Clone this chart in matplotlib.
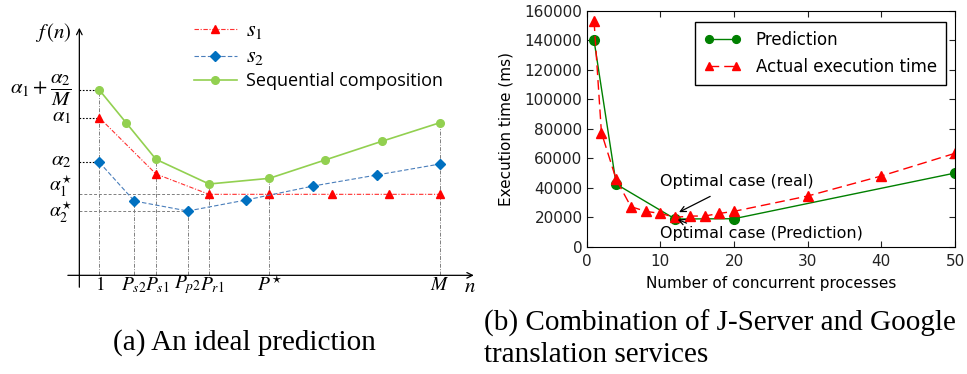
import numpy as np
import matplotlib
matplotlib.use('Agg')
import matplotlib.pyplot as plt

plt.rcParams['mathtext.fontset'] = 'stix'

# ---- (a) ideal prediction, schematic values in arbitrary units ----
seq_n = [1, 2.49, 4.16, 7.12, 10.48, 13.59, 16.75, 20]
seq_f = [55.6, 45.8, 34.8, 27.4, 29.1, 34.6, 40.2, 45.8]
s1_n = [1, 4.16, 7.12, 10.48, 13.96, 17.17, 20]
s1_f = [47.3, 30.4, 24.3, 24.3, 24.3, 24.3, 24.3]
s2_n = [1, 2.95, 5.93, 9.18, 12.93, 16.47, 20]
s2_f = [33.9, 22.3, 19.3, 22.6, 26.8, 30.1, 33.4]

ytick_f = [55.6, 47.8, 34.6, 26.6, 19.3]
ytick_lab = [r'$\alpha_1+\dfrac{\alpha_2}{M}$', r'$\alpha_1$', r'$\alpha_2$',
             r'$\alpha_1^{\star}$', r'$\alpha_2^{\star}$']
ytick_size = [15, 15, 15, 14, 14]
xtick_n = [1, 2.95, 4.16, 5.93, 7.12, 10.48, 20]
xtick_lab = [r'$1$', r'$P_{s2}$', r'$P_{s1}$', r'$P_{p2}$', r'$P_{r1}$', r'$P^{\star}$', r'$M$']
xtick_shift = [0, 0, 0.1, 0, 0.2, 0, 0]
vtops = [55.6, 22.3, 34.8, 19.3, 27.4, 29.1, 45.8]

# ---- (b) J-Server + Google translation ----
pred_n = [1, 4, 12, 20, 50]
pred_t = [140000, 42500, 18800, 19000, 50000]
act_n = [1, 2, 4, 6, 8, 10, 12, 14, 16, 18, 20, 30, 40, 50]
act_t = [153000, 77400, 45700, 27200, 24000, 22600, 19900, 20800, 20800,
         22600, 24000, 34400, 48000, 63400]

fig = plt.figure(figsize=(9.67, 3.74), dpi=100)

# ---------------- panel (a) ----------------
ax = fig.add_axes([0, 74 / 374, 480 / 967, 300 / 374])
ax.set_xlim(-4.54, 22.23)
ax.set_ylim(-7.4, 82.6)
ax.axis('off')

y0 = -0.115
# guide lines
for f in [55.6, 47.3, 33.9]:
    ax.plot([y0, 1], [f, f], color='black', lw=0.8, ls=(0, (1.5, 1.5)))
ax.plot([y0, 7.12], [24.3, 24.3], color='gray', lw=0.7, ls=(0, (3, 2)))
ax.plot([y0, 5.93], [19.3, 19.3], color='gray', lw=0.7, ls=(0, (3, 2)))
for n, top in zip(xtick_n, vtops):
    ax.plot([n, n], [0, top], color='gray', lw=0.7, ls=(0, (4, 1.5, 1, 1.5)))

ax.plot(s1_n, s1_f, color='#ff3030', lw=0.8, ls=(0, (4, 1.5, 1, 1.5)),
        marker='^', ms=6, mfc='red', mec='red', label=r'$s_1$', zorder=3)
ax.plot(s2_n, s2_f, color='#4a7ebb', lw=0.8, ls=(0, (4, 2)),
        marker='D', ms=5, mfc='#0070c0', mec='#0070c0', label=r'$s_2$', zorder=3)
ax.plot(seq_n, seq_f, color='#92d050', lw=1.2,
        marker='o', ms=5.5, mfc='#92d050', mec='#92d050',
        label='Sequential composition', zorder=4)

# axes arrows
ax.annotate('', xy=(22.04, 0), xytext=(-0.91, 0),
            arrowprops=dict(arrowstyle='->', lw=0.9, color='black'))
ax.annotate('', xy=(y0, 75.1), xytext=(y0, -4.4),
            arrowprops=dict(arrowstyle='->', lw=0.9, color='black'))

for f, lab, fs in zip(ytick_f, ytick_lab, ytick_size):
    ax.text(-0.54, f, lab, ha='right', va='center', fontsize=fs)
for n, lab, dx in zip(xtick_n, xtick_lab, xtick_shift):
    ax.text(n + dx, -2.9, lab, ha='center', va='center', fontsize=14)
ax.text(21.67, -3.2, r'$n$', ha='center', va='center', fontsize=15)
ax.text(-1.57, 73, r'$f\,(n)$', ha='center', va='center', fontsize=15)

leg = ax.legend(loc='upper left', bbox_to_anchor=(0.385, 0.965), frameon=False,
                handlelength=2.4, handletextpad=0.5, borderpad=0,
                labelspacing=0.3, fontsize=13)
leg.get_texts()[0].set_fontsize(16)
leg.get_texts()[1].set_fontsize(16)
leg.get_texts()[2].set_fontname('Open Sans')

fig.text(244 / 967, 1 - 343 / 374, '(a) An ideal prediction', ha='center',
         va='center', fontsize=21, family='Liberation Serif')

# ---------------- panel (b) ----------------
bx = fig.add_axes([586.7 / 967, (374 - 246.7) / 374, 368.3 / 967, 235.7 / 374])
bx.plot(pred_n, pred_t, color='green', lw=1.0, marker='o', ms=7, mec='green',
        label='Prediction')
bx.plot(act_n, act_t, color='red', lw=1.0, ls=(0, (7, 3.6)), marker='^', ms=7,
        mec='red', label='Actual execution time')
bx.set_xlim(0, 50)
bx.set_ylim(0, 160000)
bx.set_xticks([0, 10, 20, 30, 40, 50])
bx.set_yticks(np.arange(0, 160001, 20000))
bx.tick_params(direction='in', top=True, right=True, labelsize=11, length=4,
               colors='#222222')
bx.tick_params(axis='y', pad=3)
bx.tick_params(axis='x', pad=5)
bx.set_xlabel('Number of concurrent processes', fontsize=11, labelpad=5)
bx.set_ylabel('Execution time (ms)', fontsize=11, labelpad=8)

bx.annotate('', xy=(12.2, 22600), xytext=(17.1, 35000),
            arrowprops=dict(arrowstyle='->', lw=0.9, color='black'))
bx.annotate('', xy=(12.0, 19200), xytext=(13.9, 15300),
            arrowprops=dict(arrowstyle='->', lw=0.9, color='black'))
bx.text(9.95, 44100, 'Optimal case (real)', fontsize=11.5, va='center')
bx.text(9.95, 9000, 'Optimal case (Prediction)', fontsize=11.5, va='center')

leg2 = bx.legend(loc='upper right', bbox_to_anchor=(0.9756, 0.953),
                 borderaxespad=0, fancybox=False, numpoints=2, fontsize=12,
                 handlelength=2.2, handletextpad=0.9, borderpad=0.55,
                 markerscale=0.8, edgecolor='black', framealpha=1)
leg2.get_frame().set_linewidth(1.0)

fig.text(484 / 967, 1 - 323 / 374, '(b) Combination of J-Server and Google',
         ha='left', va='center', fontsize=21, family='Liberation Serif')
fig.text(484 / 967, 1 - 355 / 374, 'translation services',
         ha='left', va='center', fontsize=21, family='Liberation Serif')

fig.savefig('out.png', dpi=100)
